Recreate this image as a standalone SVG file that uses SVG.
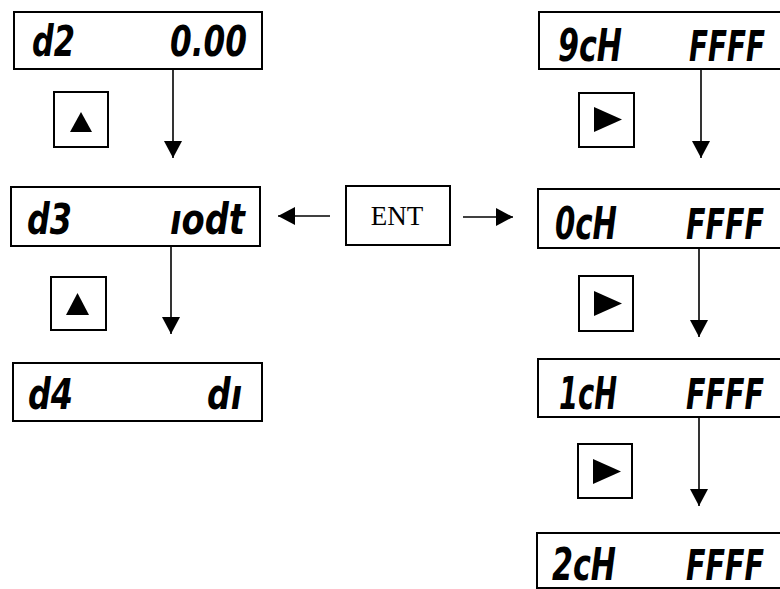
<svg xmlns="http://www.w3.org/2000/svg" width="780" height="589" viewBox="0 0 780 589">
<style>
.box{fill:#fff;stroke:#000;stroke-width:2}
.obox{fill:#fff;stroke:#000;stroke-width:2}
.btn{fill:#fff;stroke:#000;stroke-width:2}
.seg{font-family:"DejaVu Sans Condensed","DejaVu Sans",sans-serif;font-weight:bold;font-style:italic;fill:#000}
.l{font-size:42px}
.r{font-size:44px}
.f{font-size:32px}
.ent{font-family:"Liberation Serif","Times New Roman",serif;font-size:27px;fill:#000}
.con{stroke:#000;stroke-width:1.6;fill:none;marker-end:url(#ah)}
</style>
<defs>
<marker id="ah" markerUnits="userSpaceOnUse" markerWidth="18" markerHeight="18" viewBox="0 0 18 18" refX="17" refY="9" orient="auto">
<path d="M0,0 L17,9 L0,18 Z" fill="#000"/>
</marker>
</defs>
<rect width="780" height="589" fill="#fff"/>
<g id="connectors">
<line class="con" x1="173" y1="69" x2="173" y2="158"/>
<line class="con" x1="171" y1="246" x2="171" y2="334"/>
<line class="con" x1="701" y1="69" x2="701" y2="158"/>
<line class="con" x1="699" y1="248" x2="699" y2="337"/>
<line class="con" x1="699" y1="417" x2="699" y2="506"/>
<line class="con" x1="330" y1="216" x2="278" y2="216"/>
<line class="con" x1="463" y1="217" x2="513" y2="217"/>
</g>
<g id="d2">
<rect class="box" x="14" y="12" width="248" height="57"/>
<text class="seg l" x="32" y="56" textLength="43" lengthAdjust="spacingAndGlyphs">d2</text>
<text class="seg l" x="170" y="56" textLength="77" lengthAdjust="spacingAndGlyphs">0.00</text>
</g>
<g id="up1">
<rect class="btn" x="54" y="92" width="54" height="55"/>
<polygon points="81,112 70,132 92,132" fill="#000"/>
</g>
<g id="d3">
<rect class="box" x="11" y="187" width="249" height="59"/>
<text class="seg l" x="27" y="234" textLength="45" lengthAdjust="spacingAndGlyphs">d3</text>
<text class="seg l" x="170" y="234" textLength="75" lengthAdjust="spacingAndGlyphs">ıodt</text>
</g>
<g id="up2">
<rect class="btn" x="51" y="277" width="55" height="53"/>
<polygon points="77.5,293 66,315 89,315" fill="#000"/>
</g>
<g id="d4">
<rect class="box" x="13" y="363" width="249" height="58"/>
<text class="seg l" x="28" y="409" textLength="45" lengthAdjust="spacingAndGlyphs">d4</text>
<text class="seg l" x="207" y="409" textLength="35" lengthAdjust="spacingAndGlyphs">dı</text>
</g>
<g id="ent">
<rect class="box" x="346" y="186" width="104" height="59"/>
<text class="ent" x="397" y="225" text-anchor="middle">ENT</text>
</g>
<g id="ch9">
<path class="obox" d="M780,12 H539 V69 H780"/>
<text class="seg r" x="558" y="61" textLength="64" lengthAdjust="spacingAndGlyphs">9cH</text>
<text class="seg f" transform="translate(689,61) scale(1,1.35)" textLength="76" lengthAdjust="spacingAndGlyphs">FFFF</text>
</g>
<g id="right1">
<rect class="btn" x="579" y="93" width="55" height="54"/>
<polygon points="594,107 594,132 622,119.5" fill="#000"/>
</g>
<g id="ch0">
<path class="obox" d="M780,189 H538 V248 H780"/>
<text class="seg r" x="555" y="239" textLength="62" lengthAdjust="spacingAndGlyphs">0cH</text>
<text class="seg f" transform="translate(686,239) scale(1,1.35)" textLength="78" lengthAdjust="spacingAndGlyphs">FFFF</text>
</g>
<g id="right2">
<rect class="btn" x="579" y="276" width="54" height="55"/>
<polygon points="594,291 594,316 622,303.5" fill="#000"/>
</g>
<g id="ch1">
<path class="obox" d="M780,359 H538 V417 H780"/>
<text class="seg r" x="559" y="409" textLength="58" lengthAdjust="spacingAndGlyphs">1cH</text>
<text class="seg f" transform="translate(686,409) scale(1,1.35)" textLength="78" lengthAdjust="spacingAndGlyphs">FFFF</text>
</g>
<g id="right3">
<rect class="btn" x="578" y="444" width="54" height="54"/>
<polygon points="593,459 593,484 621,471.5" fill="#000"/>
</g>
<g id="ch2">
<path class="obox" d="M780,533 H537 V588 H780"/>
<text class="seg r" x="552" y="580" textLength="64" lengthAdjust="spacingAndGlyphs">2cH</text>
<text class="seg f" transform="translate(686,580) scale(1,1.35)" textLength="78" lengthAdjust="spacingAndGlyphs">FFFF</text>
</g>
</svg>
